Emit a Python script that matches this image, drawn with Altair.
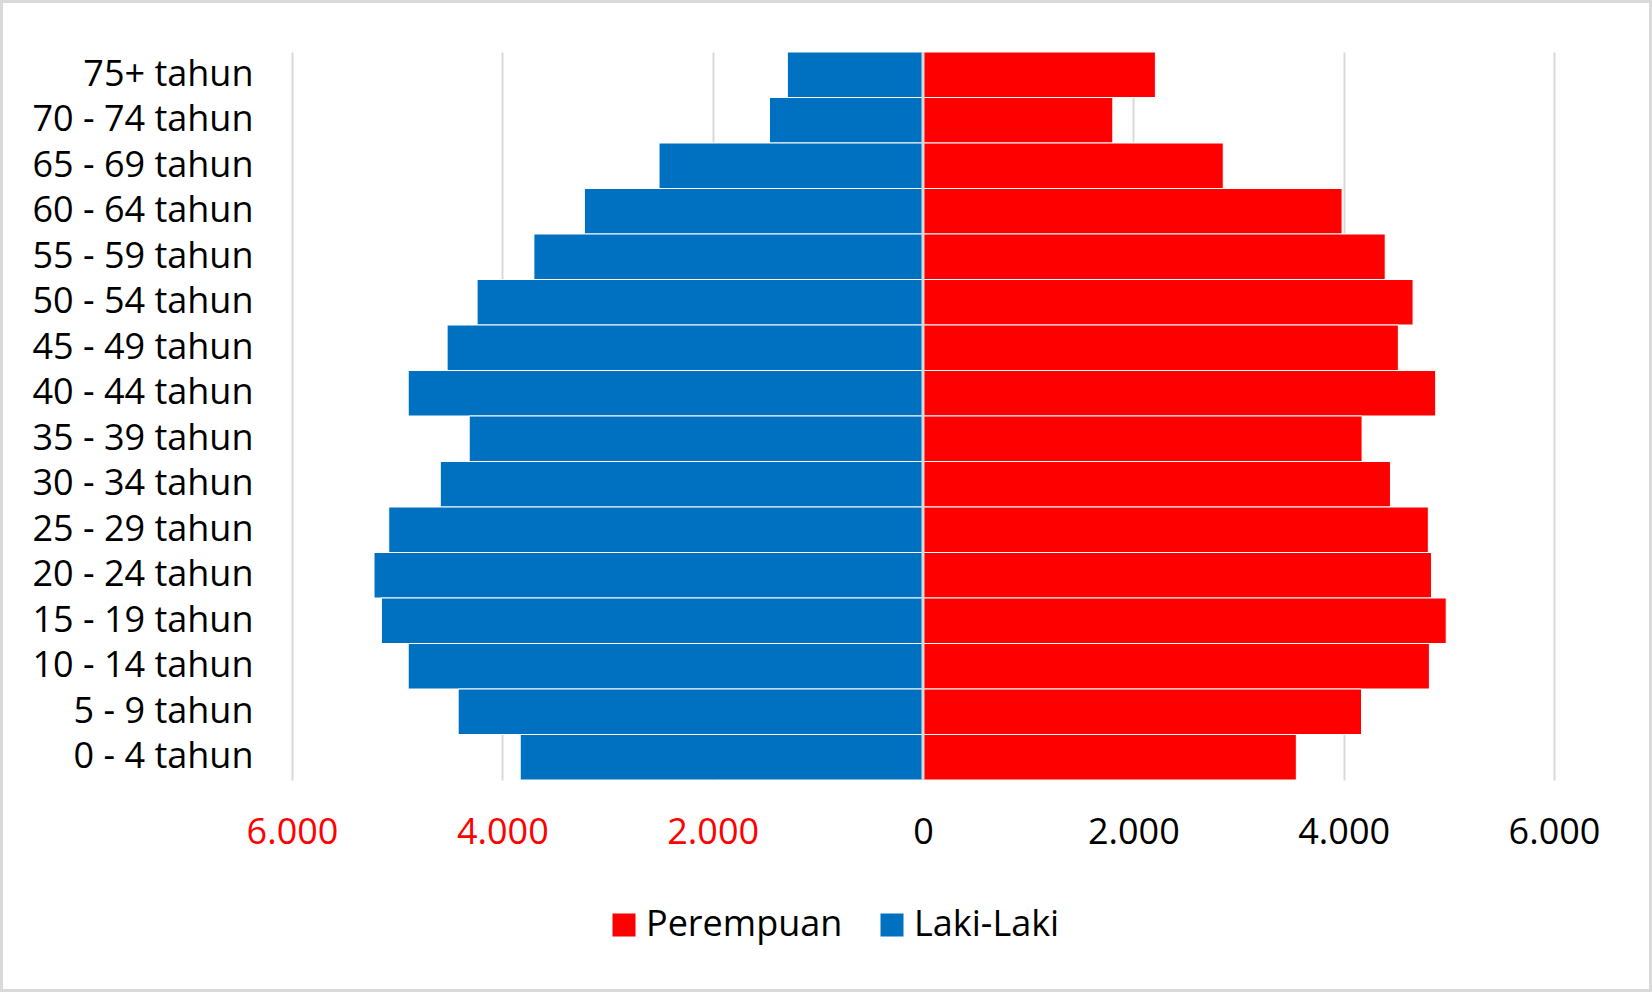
import altair as alt
import pandas as pd

ages = ["75+ tahun", "70 - 74 tahun", "65 - 69 tahun", "60 - 64 tahun", "55 - 59 tahun",
        "50 - 54 tahun", "45 - 49 tahun", "40 - 44 tahun", "35 - 39 tahun", "30 - 34 tahun",
        "25 - 29 tahun", "20 - 24 tahun", "15 - 19 tahun", "10 - 14 tahun", "5 - 9 tahun",
        "0 - 4 tahun"]
laki = [1290, 1460, 2510, 3220, 3700, 4240, 4525, 4895, 4315, 4590, 5080, 5220, 5150, 4895, 4420, 3830]
perempuan = [2210, 1805, 2855, 3985, 4395, 4660, 4520, 4875, 4175, 4445, 4805, 4835, 4975, 4815, 4170, 3550]
series = ["Perempuan", "Laki-Laki"]
colors = ["#FF0000", "#0070C0"]
ticks = [-6000, -4000, -2000, 0, 2000, 4000, 6000]

rows = []
for a, l, p in zip(ages, laki, perempuan):
    rows.append({"age": a, "sex": "Laki-Laki", "value": -l})
    rows.append({"age": a, "sex": "Perempuan", "value": p})
df = pd.DataFrame(rows)

FONT = "Open Sans"
FS = 36
W, H = 1262, 728
PL, PT = 292, 52
PR, PB = 1652 - PL - W, 992 - PT - H

bars = alt.Chart(df).mark_bar(stroke="white", strokeWidth=1).encode(
    y=alt.Y("age:N", sort=ages, title=None,
            scale=alt.Scale(paddingInner=0.0, paddingOuter=0.0),
            axis=alt.Axis(ticks=False, domain=False, labelFontSize=FS, labelFont=FONT,
                          labelColor="black", labelPadding=39, labelLimit=400)),
    x=alt.X("value:Q", stack=None, title=None,
            scale=alt.Scale(domain=[-6000, 6000], nice=False),
            axis=alt.Axis(values=ticks, ticks=False, domain=False, grid=True,
                          gridColor="#d9d9d9", gridWidth=2, labelFlush=False,
                          labelFontSize=FS, labelFont=FONT, labelPadding=35,
                          labelExpr="replace(format(abs(datum.value), ',d'), ',', '.')",
                          labelColor=alt.condition("datum.value < 0", alt.value("#FF0000"), alt.value("black")))),
    color=alt.Color("sex:N", scale=alt.Scale(domain=series, range=colors),
                    legend=alt.Legend(title=None, orient="none", direction="horizontal",
                                      legendX=314, legendY=855, symbolType="square",
                                      symbolSize=530, symbolStrokeWidth=0, labelFontSize=FS,
                                      labelFont=FONT, labelColor="black", labelOffset=4,
                                      columnPadding=31, labelLimit=400)),
)

zero = alt.Chart(pd.DataFrame({"v": [0]})).mark_rule(color="#d9d9d9", strokeWidth=3).encode(
    x=alt.X("v:Q")
)

frame = alt.Chart(pd.DataFrame({"v": [0]})).mark_rect(
    fill=None, filled=False, stroke="#d9d9d9", strokeWidth=3, clip=False
).encode(
    x=alt.value(-PL + 1.5), x2=alt.value(W + PR - 1.5),
    y=alt.value(-PT + 1.5), y2=alt.value(H + PB - 1.5)
)

chart = alt.layer(bars, zero, frame).properties(
    width=W, height=H,
    autosize=alt.AutoSizeParams(type="none"),
    padding={"left": PL, "top": PT, "right": PR, "bottom": PB},
    background="white",
).configure_view(stroke=None)

chart.save("out.html", embed_options={"renderer": "svg", "actions": False})
